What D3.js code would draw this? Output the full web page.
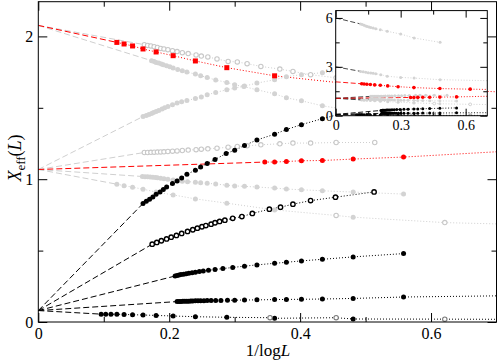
<!DOCTYPE html>
<html><head><meta charset="utf-8">
<script src="https://cdn.jsdelivr.net/npm/d3@7"></script>
<style>
body{margin:0;background:#fff}
svg{display:block}
text{font-family:"Liberation Serif","DejaVu Serif",serif;fill:#000}
</style>
</head><body>
<svg id="c" width="498" height="361"></svg>
<script>
// ---------------- tick labels ----------------
const xTicksMain = [0, 0.2, 0.4, 0.6];
const xMinorMain = [0.1, 0.3, 0.5];
const yTicksMain = [0, 1, 2];
const yMinorMain = [0.5, 1.5];
const xTicksInset = [0, 0.3, 0.6];
const xMinorInset = [0.15, 0.45];
const yTicksInset = [0, 3, 6];
const yMinorInset = [1.5, 4.5];

// ---------------- extrapolated values at 1/logL = 0 ----------------
const y0Low = 0.08, y0Mid = 1.068, y0High = 2.077, y0Three = 3.0, y0Six = 6.0;

// ---------------- black series ----------------
const xB1 = [0.096,0.103,0.111,0.120,0.131,0.144,0.160,0.180,0.206,0.240,0.288,0.361,0.481];
const yB1 = [0.055,0.055,0.054,0.054,0.053,0.051,0.049,0.046,0.042,0.037,0.033,0.026,0.021];
const xB1open = [0.354,0.455,0.621];
const yB1open = [0.030,0.030,0.020];
const yB1end = 0.019;

const xB2 = [0.212,0.215,0.218,0.221,0.224,0.227,0.230,0.233,0.236,0.240,0.244,0.248,0.253,0.258,0.264,0.271,0.279,0.289,0.300,0.315,0.334,0.361,0.379,0.402,0.434,0.481,0.558];
const yB2 = [0.143,0.144,0.144,0.145,0.145,0.146,0.146,0.147,0.147,0.148,0.148,0.149,0.149,0.150,0.150,0.151,0.151,0.152,0.153,0.154,0.155,0.157,0.158,0.159,0.161,0.165,0.175];
const yB2end = 0.183;

const xB3 = [0.209,0.212,0.215,0.218,0.222,0.226,0.230,0.235,0.240,0.246,0.252,0.260,0.270,0.282,0.297,0.315,0.334,0.361,0.379,0.402,0.434,0.481,0.558];
const yB3 = [0.322,0.326,0.329,0.332,0.335,0.338,0.341,0.345,0.349,0.353,0.357,0.362,0.368,0.374,0.382,0.391,0.400,0.411,0.418,0.428,0.439,0.456,0.479];

const xB4 = [0.174,0.181,0.188,0.196,0.203,0.211,0.219,0.228,0.236,0.243,0.250,0.256,0.264,0.270,0.277,0.285,0.297,0.311,0.327,0.353,0.370,0.389,0.416,0.454,0.513];
const yB4 = [0.545,0.557,0.569,0.582,0.594,0.606,0.620,0.634,0.646,0.657,0.667,0.675,0.685,0.695,0.704,0.713,0.726,0.738,0.760,0.790,0.804,0.825,0.850,0.874,0.911];

const xB5 = [0.160,0.165,0.170,0.175,0.180,0.186,0.191,0.196,0.205,0.212,0.219,0.227,0.240,0.248,0.258,0.270,0.287,0.300,0.315,0.334,0.361,0.379,0.402,0.434,0.481,0.558];
const yB5 = [0.830,0.846,0.860,0.876,0.895,0.911,0.928,0.946,0.970,0.988,1.009,1.035,1.063,1.086,1.110,1.138,1.180,1.203,1.236,1.275,1.315,1.348,1.382,1.424,1.480,1.550];

// ---------------- red series ----------------
const xRsq = [0.120,0.131,0.144,0.160,0.180,0.206,0.240,0.288,0.361,0.481,0.621];
const yRsq = [1.958,1.947,1.933,1.912,1.891,1.865,1.828,1.781,1.724,1.665,1.628];
const yRsqEnd = 1.612;

const xRci = [0.346,0.361,0.379,0.402,0.434,0.481,0.558];
const yRci = [1.120,1.120,1.124,1.129,1.131,1.141,1.155];
const yRciEnd = 1.192;

// ---------------- grey series ----------------
const xG1 = [0.162,0.167,0.172,0.177,0.182,0.187,0.192,0.198,0.205,0.212,0.220,0.229,0.241,0.249,0.259,0.273,0.290,0.304,0.319,0.340,0.369,0.389,0.416,0.455,0.514];
const yG1 = [1.942,1.937,1.933,1.928,1.923,1.916,1.912,1.907,1.900,1.894,1.886,1.880,1.870,1.862,1.856,1.842,1.825,1.821,1.809,1.790,1.771,1.755,1.732,1.710,1.680];

const xG2 = [0.173,0.177,0.180,0.184,0.188,0.191,0.196,0.201,0.206,0.213,0.220,0.227,0.240,0.248,0.258,0.271,0.288,0.300,0.314,0.334,0.361,0.379,0.402,0.434,0.481];
const yG2 = [1.830,1.825,1.818,1.814,1.807,1.802,1.795,1.788,1.778,1.768,1.759,1.750,1.736,1.724,1.713,1.694,1.678,1.661,1.649,1.626,1.598,1.570,1.549,1.514,1.480];

const xG3 = [0.160,0.165,0.169,0.173,0.176,0.180,0.184,0.189,0.193,0.198,0.205,0.212,0.219,0.227,0.240,0.249,0.258,0.271,0.288,0.300,0.315,0.334,0.361,0.379,0.402,0.434,0.481];
const yG3 = [1.439,1.446,1.453,1.460,1.467,1.474,1.481,1.491,1.500,1.509,1.521,1.533,1.542,1.551,1.565,1.575,1.591,1.608,1.626,1.638,1.652,1.673,1.696,1.718,1.732,1.746,1.765];

const xG4 = [0.162,0.167,0.172,0.177,0.182,0.187,0.192,0.198,0.205,0.212,0.220,0.229,0.241,0.249,0.259,0.273,0.290,0.304,0.319,0.340,0.369,0.389,0.416,0.455,0.514];
const yG4 = [1.187,1.187,1.188,1.189,1.190,1.191,1.192,1.194,1.196,1.198,1.201,1.204,1.207,1.210,1.213,1.217,1.224,1.229,1.234,1.241,1.248,1.253,1.253,1.257,1.257];

const xG5 = [0.159,0.163,0.167,0.171,0.175,0.179,0.182,0.187,0.192,0.198,0.206,0.213,0.220,0.228,0.240,0.248,0.258,0.271,0.288,0.300,0.315,0.334,0.361,0.379,0.402,0.434,0.481,0.558];
const yG5 = [1.019,1.018,1.017,1.016,1.014,1.012,1.010,1.007,1.003,0.999,0.994,0.990,0.986,0.983,0.979,0.976,0.972,0.966,0.958,0.953,0.950,0.945,0.938,0.931,0.926,0.919,0.910,0.896];

const xG6 = [0.120,0.131,0.144,0.160,0.180,0.206,0.240,0.288,0.361,0.481];
const yG6 = [0.965,0.955,0.944,0.930,0.910,0.890,0.862,0.832,0.785,0.734];
const xG6open = [0.455,0.621];
const yG6open = [0.746,0.696];
const yG6end = 0.687;

// ---------------- inset-only series ----------------
const xT6 = [0.115,0.123,0.131,0.139,0.146,0.154,0.162,0.173,0.185,0.206,0.238,0.300,0.362,0.482];
const yT6 = [5.63,5.59,5.55,5.51,5.48,5.45,5.42,5.38,5.34,5.27,5.18,5.01,4.77,4.50];
const xT3 = [0.115,0.127,0.139,0.150,0.162,0.173,0.185,0.208,0.238,0.300,0.362,0.482];
const yT3 = [2.72,2.69,2.66,2.64,2.62,2.60,2.58,2.52,2.42,2.35,2.31,2.21];
const yT3end = 2.15;

// ---------------- helpers ----------------
const zip = (xs, ys) => xs.map((v, i) => ({x: v, y: ys[i]}));
const svg = d3.select("#c");
const GREY = "#d3d3d3", GREYLINE = "#cfcfcf", RED = "#ff0000", BLACK = "#000";

// ---------------- main chart ----------------
const x = d3.scaleLinear().domain([0, 0.7]).range([38.3, 496.5]);
const y = d3.scaleLinear().domain([0, 2.243]).range([322, 1.7]);

svg.append("defs").append("clipPath").attr("id", "mainclip")
  .append("rect").attr("x", 38.3).attr("y", 1.7).attr("width", 496.5 - 38.3).attr("height", 322 - 1.7);
svg.append("defs").append("clipPath").attr("id", "insetclip")
  .append("rect").attr("x", 335.7).attr("y", 10.6).attr("width", 487.3 - 335.7).attr("height", 115.7 - 10.6);

const mainSeries = [
  // grey
  {pts: zip(xG6, yG6), open: zip(xG6open, yG6open), y0: y0Mid, yEnd: yG6end, col: "grey", kind: "filled"},
  {pts: zip(xG5, yG5), y0: y0Mid, col: "grey", kind: "filled"},
  {pts: zip(xG4, yG4), y0: y0Mid, col: "grey", kind: "open"},
  {pts: zip(xG3, yG3), y0: y0Mid, col: "grey", kind: "filled"},
  {pts: zip(xG2, yG2), y0: y0High, col: "grey", kind: "filled"},
  {pts: zip(xG1, yG1), y0: y0High, col: "grey", kind: "open"},
  // red
  {pts: zip(xRci, yRci), y0: y0Mid, yEnd: yRciEnd, col: "red", kind: "filled"},
  {pts: zip(xRsq, yRsq), y0: y0High, yEnd: yRsqEnd, col: "red", kind: "square"},
  // black
  {pts: zip(xB1, yB1), open: zip(xB1open, yB1open), y0: y0Low, yEnd: yB1end, col: "black", kind: "filled", openCol: "#7a7a7a"},
  {pts: zip(xB2, yB2), y0: y0Low, yEnd: yB2end, col: "black", kind: "filled"},
  {pts: zip(xB3, yB3), y0: y0Low, col: "black", kind: "filled"},
  {pts: zip(xB4, yB4), y0: y0Low, col: "black", kind: "open"},
  {pts: zip(xB5, yB5), y0: y0Low, col: "black", kind: "filled"}
];

function colorOf(c, line) {
  if (c === "grey") return line ? GREYLINE : GREY;
  if (c === "red") return RED;
  return BLACK;
}

function drawSeries(g, s, xs, ys, opt) {
  const lineCol = opt.dashCol ? opt.dashCol(s) : colorOf(s.col, true);
  const dotCol = colorOf(s.col, true);
  const all = s.pts.concat(s.open || []).sort((a, b) => a.x - b.x);
  const first = all[0];
  const line = d3.line().x(d => xs(d.x)).y(d => ys(d.y));
  // dashed extrapolation to 1/logL = 0
  g.append("path").attr("d", line([{x: 0, y: s.y0}, first]))
    .attr("fill", "none").attr("stroke", lineCol).attr("stroke-width", opt.lw)
    .attr("stroke-dasharray", opt.dash);
  // dotted connection
  const dl = all.slice();
  if (s.yEnd !== undefined) dl.push({x: 0.7, y: s.yEnd});
  g.append("path").attr("d", line(dl))
    .attr("fill", "none").attr("stroke", dotCol).attr("stroke-width", opt.lw)
    .attr("stroke-dasharray", opt.dot);
}

function drawMarkers(g, s, xs, ys, opt) {
  const col = colorOf(s.col, false);
  if (s.kind === "square") {
    g.selectAll(null).data(s.pts).join("rect")
      .attr("x", d => xs(d.x) - opt.sq / 2).attr("y", d => ys(d.y) - opt.sq / 2)
      .attr("width", opt.sq).attr("height", opt.sq).attr("fill", col);
  } else if (s.kind === "open") {
    g.selectAll(null).data(s.pts).join("circle")
      .attr("cx", d => xs(d.x)).attr("cy", d => ys(d.y)).attr("r", opt.ro)
      .attr("fill", "#fff").attr("stroke", s.col === "grey" ? "#c8c8c8" : col)
      .attr("stroke-width", s.col === "grey" ? opt.swGrey : opt.swBlack);
  } else {
    g.selectAll(null).data(s.pts).join("circle")
      .attr("cx", d => xs(d.x)).attr("cy", d => ys(d.y)).attr("r", opt.rf).attr("fill", col);
  }
  if (s.open) {
    const oc = s.openCol || "#c8c8c8";
    g.selectAll(null).data(s.open).join("circle")
      .attr("cx", d => xs(d.x)).attr("cy", d => ys(d.y)).attr("r", opt.ro)
      .attr("fill", "#fff").attr("stroke", oc).attr("stroke-width", opt.swGrey);
  }
}

const mainG = svg.append("g").attr("clip-path", "url(#mainclip)");
const mainOpt = {lw: 1, dash: "6,3", dot: "1,2", rf: 2.5, ro: 2.2, sq: 5, swGrey: 1.1, swBlack: 1.4};
mainSeries.forEach(s => drawSeries(mainG, s, x, y, mainOpt));
mainSeries.forEach(s => drawMarkers(mainG, s, x, y, mainOpt));

// axes (inward ticks, mirrored)
function axes(xs, ys, xt, xm, yt, ym, big, small, fs, padX, padY) {
  const [x0, x1] = xs.range(), [yb, ytop] = ys.range();
  const mk = (axisFn, scale, vals, size, showLabels, pad, tr) => {
    const a = axisFn(scale).tickValues(vals).tickSizeInner(-size).tickSizeOuter(0).tickPadding(pad);
    if (!showLabels) a.tickFormat(() => "");
    else a.tickFormat(d => String(d));
    const g = svg.append("g").attr("transform", tr).call(a);
    g.select(".domain").remove();
    g.selectAll("text").style("font-family", '"Liberation Serif",serif').style("font-size", fs + "px").attr("fill", "#000");
    g.selectAll("line").attr("stroke", "#000");
  };
  mk(d3.axisBottom, xs, xt, big, true, padX, `translate(0,${yb})`);
  mk(d3.axisBottom, xs, xm, small, false, 0, `translate(0,${yb})`);
  mk(d3.axisTop, xs, xt.concat(xm), 0, false, 0, `translate(0,${ytop})`);
  mk(d3.axisTop, xs, xt, big, false, 0, `translate(0,${ytop})`);
  mk(d3.axisTop, xs, xm, small, false, 0, `translate(0,${ytop})`);
  mk(d3.axisLeft, ys, yt, big, true, padY, `translate(${x0},0)`);
  mk(d3.axisLeft, ys, ym, small, false, 0, `translate(${x0},0)`);
  mk(d3.axisRight, ys, yt, big, false, 0, `translate(${x1},0)`);
  mk(d3.axisRight, ys, ym, small, false, 0, `translate(${x1},0)`);
  svg.append("rect").attr("x", x0).attr("y", ytop).attr("width", x1 - x0).attr("height", yb - ytop)
    .attr("fill", "none").attr("stroke", "#000").attr("stroke-width", 1);
}
axes(x, y, xTicksMain, xMinorMain, yTicksMain, yMinorMain, 9, 5, 16, 6, 5);

// axis titles
const xt = svg.append("text").attr("x", 268).attr("y", 356).attr("text-anchor", "middle").style("font-size", "17px");
xt.append("tspan").text("1/log");
xt.append("tspan").style("font-style", "italic").text("L");

const yt = svg.append("text").attr("transform", "translate(21,158) rotate(-90)").attr("text-anchor", "middle").style("font-size", "18px");
yt.append("tspan").style("font-style", "italic").text("X");
yt.append("tspan").attr("dy", 4).style("font-size", "13px").text("eff");
yt.append("tspan").attr("dy", -4).text("(");
yt.append("tspan").style("font-style", "italic").text("L");
yt.append("tspan").text(")");

// ---------------- inset ----------------
const xi = d3.scaleLinear().domain([0, 0.7]).range([335.7, 487.3]);
const yi = d3.scaleLinear().domain([0, 6.45]).range([115.7, 10.6]);
svg.append("rect").attr("x", 335.7).attr("y", 10.6).attr("width", 487.3 - 335.7).attr("height", 115.7 - 10.6).attr("fill", "#fff");

const insetSeries = [
  {pts: zip(xT6, yT6), y0: y0Six, col: "grey", kind: "filled", dashBlack: true},
  {pts: zip(xT3, yT3), y0: y0Three, yEnd: yT3end, col: "grey", kind: "filled", dashBlack: true},
  {pts: zip(xG6, yG6), open: zip(xG6open, yG6open), y0: y0Mid, yEnd: yG6end, col: "grey", kind: "filled", dashBlack: true},
  {pts: zip(xG5, yG5), y0: y0Mid, col: "grey", kind: "filled", dashBlack: true},
  {pts: zip(xG4, yG4), y0: y0Mid, col: "grey", kind: "filled", dashBlack: true},
  {pts: zip(xRci, yRci), y0: y0Mid, yEnd: yRciEnd, col: "red", kind: "filled"},
  {pts: zip(xRsq, yRsq), y0: y0High, yEnd: yRsqEnd, col: "red", kind: "filled"},
  {pts: zip(xB1, yB1), open: zip(xB1open, yB1open), y0: y0Low, yEnd: yB1end, col: "black", kind: "filled", openCol: "#7a7a7a"},
  {pts: zip(xB2, yB2), y0: y0Low, yEnd: yB2end, col: "black", kind: "filled"},
  {pts: zip(xB3, yB3), y0: y0Low, col: "black", kind: "filled"}
];
const insG = svg.append("g").attr("clip-path", "url(#insetclip)");
const insOpt = {lw: 0.9, dash: "5,2.5", dot: "1,1.8", rf: 1.5, ro: 1.4, sq: 3, swGrey: 0.8, swBlack: 0.8,
  dashCol: s => s.dashBlack ? "#333" : colorOf(s.col, true)};
insetSeries.forEach(s => drawSeries(insG, s, xi, yi, insOpt));
insetSeries.forEach(s => drawMarkers(insG, s, xi, yi, Object.assign({}, insOpt, {rf: s.col === "red" ? 1.8 : 1.5})));

axes(xi, yi, xTicksInset, xMinorInset, yTicksInset, yMinorInset, 7, 4, 14, 4.5, 3);
</script>
</body></html>
